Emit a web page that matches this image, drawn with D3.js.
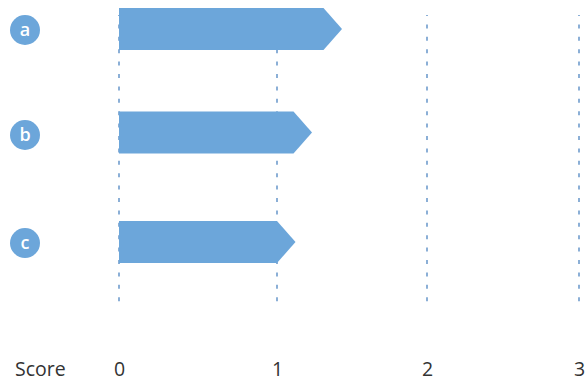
<!DOCTYPE html>
<html>
<head>
<meta charset="utf-8">
<script src="https://cdn.jsdelivr.net/npm/d3@7"></script>
<style>
  html, body { margin: 0; padding: 0; background: #fff; }
  svg { display: block; }
</style>
</head>
<body>
<svg id="chart" width="587" height="383"></svg>
<script>
const categories = ["a", "b", "c"];
const values = [1.31, 1.11, 1.0];
const tickValues = [0, 1, 2, 3];
const tickLabels = ["0", "1", "2", "3"];
const axisTitle = "Score";

const color = "#6ca6da";
const gridColor = "#5b8ec6";
const font = "'Open Sans', sans-serif";

const svg = d3.select("#chart");

const x = d3.scaleLinear().domain([0, 1, 2, 3]).range([119, 277, 427, 579]);
const y = d3.scaleOrdinal().domain(categories).range([29, 132.5, 242]);
const yBadge = d3.scaleOrdinal().domain(categories).range([30, 135, 243]);
const barH = 42;
const tip = 18.5;

// gridlines
svg.append("g").selectAll("line").data(tickValues).join("line")
  .attr("x1", d => x(d)).attr("x2", d => x(d))
  .attr("y1", 15).attr("y2", 304)
  .attr("stroke", gridColor).attr("stroke-width", 1.4)
  .attr("stroke-dasharray", "4 8.4").attr("stroke-dashoffset", 3);

// arrow bars
const data = categories.map((c, i) => ({ c, v: values[i] }));
svg.append("g").selectAll("path").data(data).join("path")
  .attr("d", d => {
    const x0 = x(0), x1 = x(d.v), yc = y(d.c);
    const t = yc - barH / 2, b = yc + barH / 2;
    return `M${x0},${t}L${x1},${t}L${x1 + tip},${yc}L${x1},${b}L${x0},${b}Z`;
  })
  .attr("fill", color);

// category badges
const badge = svg.append("g").selectAll("g").data(categories).join("g")
  .attr("transform", d => `translate(25,${yBadge(d)})`);
badge.append("circle").attr("r", 15).attr("fill", color);
badge.append("text").text(d => d)
  .attr("text-anchor", "middle").attr("dy", "0.36em")
  .attr("fill", "#fff").attr("font-family", font)
  .attr("font-weight", 600).attr("font-size", 18);

// axis labels
const axis = d3.axisBottom(x).tickValues(tickValues)
  .tickFormat((d, i) => tickLabels[i]).tickSize(0).tickPadding(0);
const ag = svg.append("g").attr("transform", "translate(0,376)").call(axis);
ag.select(".domain").remove();
ag.selectAll("text").attr("y", 0).attr("dy", 0)
  .attr("font-family", font).attr("font-size", 19.5).attr("fill", "#333");

svg.append("text").text(axisTitle)
  .attr("x", 15).attr("y", 376)
  .attr("font-family", font)
  .attr("font-size", 19.5).attr("fill", "#333");
</script>
</body>
</html>
